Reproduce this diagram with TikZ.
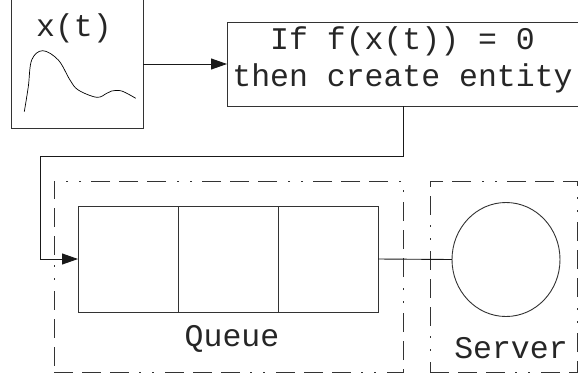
\documentclass[tikz,border=0pt]{standalone}
\usepackage{fontspec}
\newfontfamily\monofam{Liberation Mono}
\usetikzlibrary{arrows.meta,shapes.geometric}
\begin{document}
\begin{tikzpicture}[x=1pt,y=-1pt,
  box/.style={draw=black!80, line width=0.9pt, inner sep=0pt, outer sep=0pt},
  frame/.style={draw=black!80, line width=0.9pt, inner sep=0pt, outer sep=0pt,
    dash pattern=on 19pt off 9pt on 19pt off 9pt on 19pt off 10pt on 2pt off 11pt on 2pt off 11pt},
  lbl/.style={font=\monofam\fontsize{31.5}{37}\selectfont, text=black!85, inner sep=0pt, anchor=base},
  conn/.style={draw=black!90, line width=0.9pt},
  arr/.style={conn, -{Triangle[length=16pt,width=11pt]}}
]
\useasboundingbox (0,0) rectangle (578,381);
\clip (0,0) rectangle (578,381);

% signal box
\node[box, minimum width=132, minimum height=131] (src) at (77,63) {};
\node[lbl] (srclbl) at (74,36) {x(t)};
\draw[black, line width=0.7pt] plot[smooth, tension=0.6] coordinates
  {(24.3,111.7) (28.3,86.7) (31.7,60) (42.7,50.7) (58.3,60) (70,80) (78.3,90)
   (96.7,97.3) (106.7,93.3) (111.7,91) (121.7,91) (135.7,98.3)};

% condition box
\node[box, minimum width=351, minimum height=84] (cond) at (402.5,64) {};
\node[lbl] (condA) at (402.5,49) {If f(x(t)) = 0};
\node[lbl] (condB) at (402.5,86) {then create entity};

% queue frame and cells
\node[frame, minimum width=349, minimum height=191] (qframe) at (228.5,276.5) {};
\node[box, minimum width=100, minimum height=106] (c1) at (128,259) {};
\node[box, minimum width=100, minimum height=106] (c2) at (228,259) {};
\node[box, minimum width=100, minimum height=106] (c3) at (328,259) {};
\node[lbl] (qlbl) at (232,346) {Queue};

% server frame and server
\node[frame, minimum width=147, minimum height=191] (sframe) at (503.5,276.5) {};
\node[box, ellipse, minimum width=108, minimum height=114] (srv) at (506,259.5) {};
\node[lbl] (slbl) at (511,358) {Server};

% connectors
\coordinate (k1) at (403,156);
\coordinate (k2) at (40,156);
\coordinate (k3) at (40,259);
\draw[arr] (src.east |- 0,64) -- (cond.west |- 0,64);
\draw[arr] (cond.south -| k1) -- (k1) -- (k2) -- (k3) -- (c1.west);
\draw[conn] (c3.east) -- (srv.west);
\end{tikzpicture}
\end{document}
